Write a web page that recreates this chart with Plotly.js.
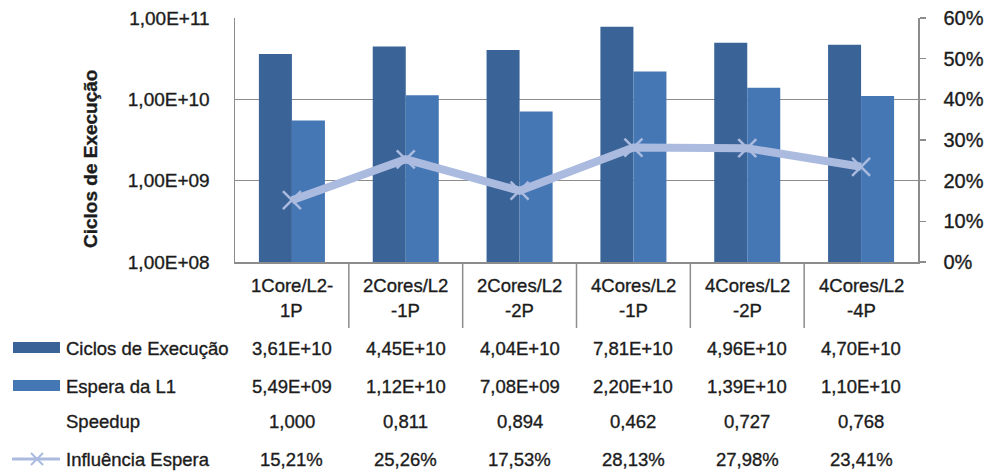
<!DOCTYPE html>
<html>
<head>
<meta charset="utf-8">
<script src="https://cdn.plot.ly/plotly-3.0.1.min.js"></script>
<style>
html,body{margin:0;padding:0;background:#fff;}
#chart{width:986px;height:472px;}
#chart svg text{stroke:#1c1c1c;stroke-width:0.35px;}
</style>
</head>
<body>
<div id="chart"></div>
<script>
// ---- data ----
var categories = ["1Core/L2-1P", "2Cores/L2-1P", "2Cores/L2-2P", "4Cores/L2-1P", "4Cores/L2-2P", "4Cores/L2-4P"];
var categoryLines = [["1Core/L2-", "1P"], ["2Cores/L2", "-1P"], ["2Cores/L2", "-2P"], ["4Cores/L2", "-1P"], ["4Cores/L2", "-2P"], ["4Cores/L2", "-4P"]];
var ciclosExecucao = [3.61e10, 4.45e10, 4.04e10, 7.81e10, 4.96e10, 4.70e10];
var esperaL1 = [5.49e9, 1.12e10, 7.08e9, 2.20e10, 1.39e10, 1.10e10];
var speedup = [1.000, 0.811, 0.894, 0.462, 0.727, 0.768];
var influenciaEspera = [0.1521, 0.2526, 0.1753, 0.2813, 0.2798, 0.2341];
var rowNames = ["Ciclos de Execução", "Espera da L1", "Speedup", "Influência Espera"];
var leftTickVals = [1e8, 1e9, 1e10, 1e11];
var leftTickText = ["1,00E+08", "1,00E+09", "1,00E+10", "1,00E+11"];

// ---- styles ----
var W = 986, H = 472;
var M = {l: 235, r: 68, t: 18, b: 210};
var plotH = H - M.t - M.b, plotW = W - M.l - M.r;
var FONT = "'Liberation Sans', Arial, sans-serif";
var FS = 18.5;
var TXT = "#1c1c1c";
var DARK = "#3a6398", LIGHT = "#4677b5", LINE = "#abbbdf";
function py(pix) { return (H - M.b - pix) / plotH; }
function px(pix) { return (pix - M.l) / plotW; }

function fmtSci(v) {
  var e = Math.floor(Math.log10(v));
  var m = v / Math.pow(10, e);
  return m.toFixed(2).replace('.', ',') + 'E+' + (e < 10 ? '0' + e : e);
}
function fmtDec(v, d) { return v.toFixed(d).replace('.', ','); }
function fmtPct(v) { return (v * 100).toFixed(2).replace('.', ',') + '%'; }

var traces = [
  {type: 'bar', x: categories, y: ciclosExecucao, name: rowNames[0], marker: {color: DARK}, showlegend: false, hoverinfo: 'skip'},
  {type: 'bar', x: categories, y: esperaL1, name: rowNames[1], marker: {color: LIGHT}, showlegend: false, hoverinfo: 'skip'},
  {type: 'scatter', mode: 'lines+markers', x: categories, y: influenciaEspera, yaxis: 'y2', name: rowNames[3],
   line: {color: LINE, width: 8}, marker: {symbol: 'x-thin', size: 18, line: {color: LINE, width: 2.5}, color: LINE},
   showlegend: false, hoverinfo: 'skip'}
];

var annotations = [];
var shapes = [];

// category labels (two lines)
categoryLines.forEach(function (lines, i) {
  annotations.push({xref: 'x', yref: 'paper', x: categories[i], y: py(285), text: lines[0], showarrow: false,
    font: {family: FONT, size: FS, color: TXT}, xanchor: 'center', yanchor: 'middle'});
  annotations.push({xref: 'x', yref: 'paper', x: categories[i], y: py(310), text: lines[1], showarrow: false,
    font: {family: FONT, size: FS, color: TXT}, xanchor: 'center', yanchor: 'middle'});
});

// data table rows
var rowY = [348, 386, 422, 459];
var rowVals = [ciclosExecucao.map(fmtSci), esperaL1.map(fmtSci), speedup.map(function (v) { return fmtDec(v, 3); }), influenciaEspera.map(fmtPct)];
rowVals.forEach(function (vals, r) {
  vals.forEach(function (t, i) {
    annotations.push({xref: 'x', yref: 'paper', x: categories[i], y: py(rowY[r]), text: t, showarrow: false,
      font: {family: FONT, size: FS, color: TXT}, xanchor: 'center', yanchor: 'middle'});
  });
  annotations.push({xref: 'paper', yref: 'paper', x: px(64), y: py(rowY[r]), text: rowNames[r], showarrow: false,
    font: {family: FONT, size: FS, color: TXT}, xanchor: 'left', yanchor: 'middle'});
});

// legend keys
shapes.push({type: 'rect', xref: 'paper', yref: 'paper', x0: px(13), x1: px(60), y0: py(353), y1: py(342), fillcolor: DARK, line: {width: 0}});
shapes.push({type: 'rect', xref: 'paper', yref: 'paper', x0: px(13), x1: px(60), y0: py(391), y1: py(380), fillcolor: LIGHT, line: {width: 0}});
shapes.push({type: 'line', xref: 'paper', yref: 'paper', x0: px(12), x1: px(60), y0: py(459), y1: py(459), line: {color: LINE, width: 3}});
shapes.push({type: 'line', xref: 'paper', yref: 'paper', x0: px(31), x1: px(43), y0: py(453), y1: py(465), line: {color: LINE, width: 2}});
shapes.push({type: 'line', xref: 'paper', yref: 'paper', x0: px(31), x1: px(43), y0: py(465), y1: py(453), line: {color: LINE, width: 2}});

// category dividers in table header
for (var k = 0; k < categories.length - 1; k++) {
  shapes.push({type: 'line', xref: 'x', yref: 'paper', x0: k + 0.5, x1: k + 0.5, y0: 0, y1: py(328), line: {color: '#8c8c8c', width: 1.5}});
}

// y axis title
annotations.push({xref: 'paper', yref: 'paper', x: px(91), y: py(159), text: '<b>Ciclos de Execução</b>', textangle: -90, showarrow: false,
  font: {family: FONT, size: 19, color: TXT}, xanchor: 'center', yanchor: 'middle'});

var layout = {
  width: W, height: H,
  margin: M,
  paper_bgcolor: '#fff', plot_bgcolor: '#fff',
  barmode: 'group', bargap: 0.42, bargroupgap: 0,
  showlegend: false,
  xaxis: {type: 'category', showticklabels: false, showgrid: false, zeroline: false, showline: true, linecolor: '#8c8c8c', linewidth: 1.5, ticks: '', mirror: false},
  yaxis: {type: 'log', range: [8, 11], tickvals: leftTickVals, ticktext: leftTickText, showgrid: true, gridcolor: '#8c8c8c', gridwidth: 1.5,
    showline: true, linecolor: '#8c8c8c', linewidth: 1.5, ticks: '', zeroline: false,
    tickfont: {family: FONT, size: 19, color: TXT}, ticklabelstandoff: 20},
  yaxis2: {overlaying: 'y', side: 'right', range: [0, 0.6], dtick: 0.1, tickformat: '.0%', showgrid: false, zeroline: false,
    showline: true, linecolor: '#8c8c8c', linewidth: 1.5, ticks: 'outside', ticklen: 6, tickcolor: '#8c8c8c', tickwidth: 1.5,
    tickfont: {family: FONT, size: 20, color: TXT}, ticklabelstandoff: 14},
  annotations: annotations,
  shapes: shapes
};

Plotly.newPlot('chart', traces, layout, {staticPlot: true, displayModeBar: false});
</script>
</body>
</html>
